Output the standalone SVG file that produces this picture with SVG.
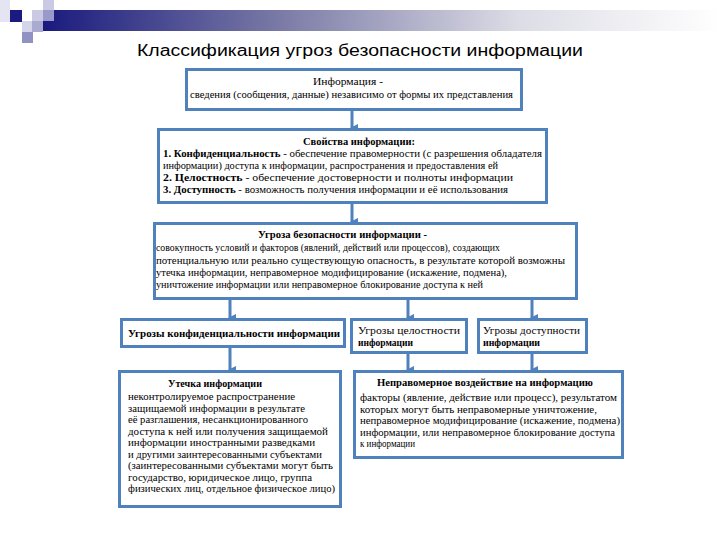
<svg xmlns="http://www.w3.org/2000/svg" width="720" height="540" viewBox="0 0 720 540">
<style>
.box{fill:#fff;stroke:#4f81bd;stroke-width:3}
.t{font-family:"Liberation Serif","Times New Roman","DejaVu Serif",serif;font-size:11px;fill:#000}
.b{font-weight:bold}
.c{text-anchor:middle}
.con{stroke:#4f81bd;stroke-width:3;fill:none}
.title{font-family:"Liberation Sans",Arial,sans-serif;font-size:16px;fill:#000}
</style>
<defs>
<linearGradient id="bar" x1="0" y1="0" x2="1" y2="0">
<stop offset="0" stop-color="#1a1a7e"/>
<stop offset="0.35" stop-color="#7a7aa6"/>
<stop offset="0.7" stop-color="#dcdce6"/>
<stop offset="1" stop-color="#ffffff"/>
</linearGradient>
<marker id="arr" markerWidth="8" markerHeight="8" refX="4" refY="6" orient="auto" markerUnits="userSpaceOnUse" viewBox="0 0 8 8">
<path d="M0,0 L8,0 L4,8 Z" fill="#4f81bd"/>
</marker>
</defs>
<g id="header">
<rect x="43" y="10" width="677" height="21" fill="url(#bar)"/>
<rect x="0" y="0" width="10" height="22" fill="#e4e4f2"/>
<rect x="10" y="10" width="12" height="12" fill="#1a1a80"/>
<rect x="32" y="10" width="11" height="11" fill="#cacae4"/>
<rect x="43" y="0" width="11" height="10" fill="#cacae4"/>
<rect x="43" y="10" width="11" height="11" fill="#9a9aca"/>
<rect x="22" y="21" width="11" height="11" fill="#d4d4ea"/>
<rect x="32" y="21" width="11" height="11" fill="#ababd2"/>
<rect x="22" y="32" width="11" height="11" fill="#9292c2"/>
<text class="title" x="137" y="56" textLength="446" lengthAdjust="spacingAndGlyphs">Классификация угроз безопасности информации</text>
</g>
<g id="connectors">
<line class="con" x1="352" y1="111" x2="352" y2="128" marker-end="url(#arr)"/>
<line class="con" x1="352" y1="204" x2="352" y2="222" marker-end="url(#arr)"/>
<line class="con" x1="230" y1="299" x2="230" y2="318" marker-end="url(#arr)"/>
<line class="con" x1="408" y1="299" x2="408" y2="318" marker-end="url(#arr)"/>
<line class="con" x1="532" y1="299" x2="532" y2="318" marker-end="url(#arr)"/>
<line class="con" x1="230" y1="348" x2="230" y2="370" marker-end="url(#arr)"/>
<line class="con" x1="408" y1="354" x2="408" y2="370" marker-end="url(#arr)"/>
<line class="con" x1="532" y1="354" x2="532" y2="370" marker-end="url(#arr)"/>
</g>
<g id="n1">
<rect class="box" x="186.5" y="69.5" width="335" height="40"/>
<text class="t" x="313" y="85" textLength="70" lengthAdjust="spacingAndGlyphs">Информация -</text>
<text class="t" x="190" y="98" textLength="323" lengthAdjust="spacingAndGlyphs">сведения (сообщения, данные) независимо от формы их представления</text>
</g>
<g id="n2">
<rect class="box" x="158.5" y="129.5" width="388" height="73"/>
<text class="t b" x="303" y="145" textLength="112" lengthAdjust="spacingAndGlyphs">Свойства информации:</text>
<text class="t" x="163" y="157" textLength="379" lengthAdjust="spacingAndGlyphs"><tspan class="b">1. Конфиденциальность</tspan> - обеспечение правомерности (с разрешения обладателя</text>
<text class="t" x="163" y="169" textLength="335" lengthAdjust="spacingAndGlyphs">информации) доступа к информации, распространения и предоставления ей</text>
<text class="t" x="163" y="181" textLength="350" lengthAdjust="spacingAndGlyphs"><tspan class="b">2. Целостность</tspan> - обеспечение достоверности и полноты информации</text>
<text class="t" x="163" y="193" textLength="345" lengthAdjust="spacingAndGlyphs"><tspan class="b">3. Доступность</tspan> - возможность получения информации и её использования</text>
</g>
<g id="n3">
<rect class="box" x="154.5" y="223.5" width="422" height="75"/>
<text class="t b" x="258" y="238" textLength="169" lengthAdjust="spacingAndGlyphs">Угроза безопасности информации -</text>
<text class="t" x="156" y="251" textLength="344" lengthAdjust="spacingAndGlyphs">совокупность условий и факторов (явлений, действий или процессов), создающих</text>
<text class="t" x="156" y="264" textLength="409" lengthAdjust="spacingAndGlyphs">потенциальную или реально существующую опасность, в результате которой возможны</text>
<text class="t" x="156" y="276" textLength="351" lengthAdjust="spacingAndGlyphs">утечка информации, неправомерное модифицирование (искажение, подмена),</text>
<text class="t" x="156" y="288" textLength="327" lengthAdjust="spacingAndGlyphs">уничтожение информации или неправомерное блокирование доступа к ней</text>
</g>
<g id="n4">
<rect class="box" x="121.5" y="319.5" width="223" height="27"/>
<text class="t b" x="128" y="337" textLength="212" lengthAdjust="spacingAndGlyphs">Угрозы конфиденциальности информации</text>
</g>
<g id="n5">
<rect class="box" x="351.5" y="319.5" width="115" height="33"/>
<text class="t" x="358" y="334" textLength="102" lengthAdjust="spacingAndGlyphs">Угрозы целостности</text>
<text class="t b" x="358" y="346" textLength="55" lengthAdjust="spacingAndGlyphs">информации</text>
</g>
<g id="n6">
<rect class="box" x="478.5" y="319.5" width="108" height="33"/>
<text class="t" x="483" y="334" textLength="97" lengthAdjust="spacingAndGlyphs">Угрозы доступности</text>
<text class="t b" x="483" y="346" textLength="57" lengthAdjust="spacingAndGlyphs">информации</text>
</g>
<g id="n7">
<rect class="box" x="119.5" y="371.5" width="221" height="135"/>
<text class="t b" x="168" y="387" textLength="94" lengthAdjust="spacingAndGlyphs">Утечка информации</text>
<text class="t" x="128" y="400" textLength="167" lengthAdjust="spacingAndGlyphs">неконтролируемое распространение</text>
<text class="t" x="128" y="411.5" textLength="177" lengthAdjust="spacingAndGlyphs">защищаемой информации в результате</text>
<text class="t" x="128" y="423" textLength="180" lengthAdjust="spacingAndGlyphs">её разглашения, несанкционированного</text>
<text class="t" x="128" y="434.5" textLength="200" lengthAdjust="spacingAndGlyphs">доступа к ней или получения защищаемой</text>
<text class="t" x="128" y="446" textLength="187" lengthAdjust="spacingAndGlyphs">информации иностранными разведками</text>
<text class="t" x="128" y="457.5" textLength="194" lengthAdjust="spacingAndGlyphs">и другими заинтересованными субъектами</text>
<text class="t" x="128" y="469" textLength="205" lengthAdjust="spacingAndGlyphs">(заинтересованными субъектами могут быть</text>
<text class="t" x="128" y="480.5" textLength="184" lengthAdjust="spacingAndGlyphs">государство, юридическое лицо, группа</text>
<text class="t" x="128" y="492" textLength="207" lengthAdjust="spacingAndGlyphs">физических лиц, отдельное физическое лицо)</text>
</g>
<g id="n8">
<rect class="box" x="354.5" y="371.5" width="268" height="86"/>
<text class="t b" x="377" y="386" textLength="216" lengthAdjust="spacingAndGlyphs">Неправомерное воздействие на информацию</text>
<text class="t" x="360" y="401" textLength="257" lengthAdjust="spacingAndGlyphs">факторы (явление, действие или процесс), результатом</text>
<text class="t" x="360" y="412.5" textLength="237" lengthAdjust="spacingAndGlyphs">которых могут быть неправомерные уничтожение,</text>
<text class="t" x="360" y="424" textLength="260" lengthAdjust="spacingAndGlyphs">неправомерное модифицирование (искажение, подмена)</text>
<text class="t" x="360" y="435.5" textLength="255" lengthAdjust="spacingAndGlyphs">информации, или неправомерное блокирование доступа</text>
<text class="t" x="360" y="447" textLength="55" lengthAdjust="spacingAndGlyphs">к информации</text>
</g>
</svg>
